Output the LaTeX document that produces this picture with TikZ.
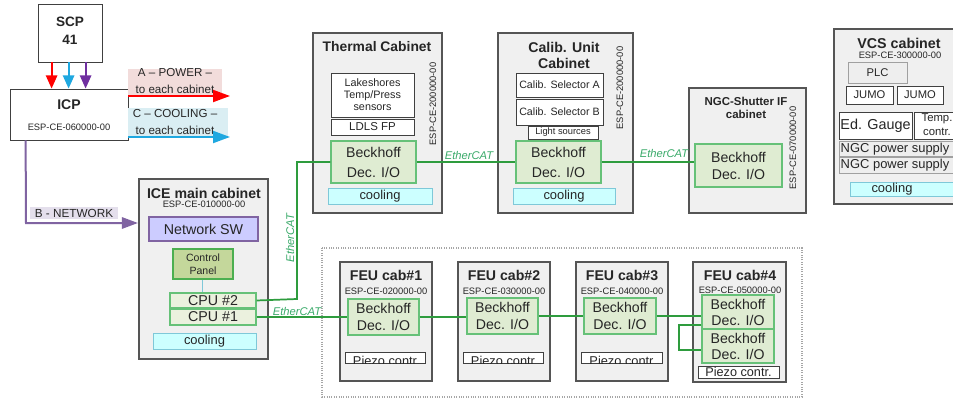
\documentclass[tikz,border=0pt]{standalone}
\usepackage{fontspec}
\setmainfont{Liberation Sans}
\usetikzlibrary{arrows.meta}
\definecolor{cabfill}{HTML}{F0F0F0}
\definecolor{cabline}{HTML}{555555}
\definecolor{wline}{HTML}{404040}
\definecolor{beckfill}{HTML}{DFECD2}
\definecolor{beckline}{HTML}{66C178}
\definecolor{cpufill}{HTML}{EBF1DE}
\definecolor{cpfill}{HTML}{C4D79B}
\definecolor{cpline}{HTML}{4CAF50}
\definecolor{netfill}{HTML}{CCCCFF}
\definecolor{netline}{HTML}{8064A2}
\definecolor{coolfill}{HTML}{CCFFFF}
\definecolor{coolline}{HTML}{7FC8D8}
\definecolor{ecatc}{HTML}{2E9C3E}
\definecolor{ecattext}{HTML}{3AAA6A}
\definecolor{gfill}{HTML}{EEEEEE}
\definecolor{gline}{HTML}{A0A0A0}
\definecolor{pwrred}{HTML}{FF0000}
\definecolor{coolblue}{HTML}{1FA8E0}
\definecolor{netpurple}{HTML}{7030A0}
\definecolor{pinkbg}{HTML}{F2DCDB}
\definecolor{bluebg}{HTML}{DAEEF3}
\definecolor{purplebg}{HTML}{E4DFEC}
\definecolor{txt}{HTML}{262626}
\newcommand\bx[7]{\node[#1, inner sep=0pt, minimum width={(#5-#3)*0.75pt}, minimum height={(#6-#4)*0.75pt}] (#2) at ({(#3+#5)/2},{(#4+#6)/2}) {#7};}
\tikzset{
  every node/.style={text=txt},
  cab/.style={draw=cabline, fill=cabfill, line width=1.6pt},
  plain/.style={draw=wline, fill=white, line width=0.6pt},
  ttl/.style={font=\bfseries\fontsize{10.6}{12}\selectfont, align=center, inner sep=0pt},
  esp/.style={font=\fontsize{7}{8}\selectfont, inner sep=0pt},
  wbox/.style={draw=wline, fill=white, line width=0.6pt, align=center},
  gbox/.style={draw=gline, fill=gfill, line width=0.6pt, align=center},
  beck/.style={draw=beckline, fill=beckfill, line width=0.8pt, align=center, font=\fontsize{10.6}{15}\selectfont},
  beckf/.style={beck, font=\fontsize{10.6}{12.8}\selectfont},
  cpu/.style={draw=beckline, fill=cpufill, line width=0.8pt, align=center, font=\fontsize{10.7}{12}\selectfont},
  cool/.style={draw=coolline, fill=coolfill, line width=0.7pt, align=center, font=\fontsize{9.7}{11}\selectfont},
  ecat/.style={draw=ecatc, line width=1.3pt},
  ecatlbl/.style={text=ecattext, font=\itshape\fontsize{8.4}{10}\selectfont, inner sep=0pt},
  lbl/.style={font=\fontsize{8.7}{12.8}\selectfont, align=center},
  bigarrow/.style={line width=1.5pt, -{Triangle[length=12.75pt,width=9pt]}},
  smallarrow/.style={line width=1.6pt, -{Triangle[length=10pt,width=8.5pt]}},
}
\begin{document}
\begin{tikzpicture}[x=0.75pt,y=-0.75pt]
\useasboundingbox (0,0) rectangle (953,399);
\fill[white] (0,0) rectangle (953,399);

% dotted frame around FEU cabinets
\draw[gray!70, densely dotted, line width=0.8pt] (322,248) rectangle (802,397);

% SCP and ICP
\bx{plain}{scp}{38}{4}{102}{62}{}
\node[ttl, font=\bfseries\fontsize{10.2}{13.5}\selectfont] (scpt) at (70,31) {SCP\\41};
\bx{plain}{icp}{10}{89}{128}{140}{}
\node[ttl, font=\bfseries\fontsize{10.5}{12}\selectfont] (icpt) at (69,105) {ICP};
\node[esp] (icpesp) at (69,127) {ESP-CE-060000-00};

\draw[smallarrow, pwrred] ([xshift=10.5pt]scp.south west) -- ([xshift=10.5pt]scp.south west |- icp.north);
\draw[smallarrow, coolblue] ([xshift=23.25pt]scp.south west) -- ([xshift=23.25pt]scp.south west |- icp.north);
\draw[smallarrow, netpurple] ([xshift=36pt]scp.south west) -- ([xshift=36pt]scp.south west |- icp.north);

% power / cooling labels and arrows
\bx{fill=pinkbg}{powlbl}{128}{69}{222}{96}{}
\node[lbl] (powt) at (175,81) {A – POWER –\\to each cabinet};
\bx{fill=bluebg}{coollbl}{128}{108}{228}{137}{}
\node[lbl] (coolt) at (175,122) {C – COOLING –\\to each cabinet};
\coordinate (pwrend) at (230,96);
\coordinate (coolend) at (230,137);
\draw[bigarrow, pwrred] (icp.east |- pwrend) -- (pwrend);
\draw[bigarrow, coolblue] (icp.east |- coolend) -- (coolend);

% ICE main cabinet
\bx{cab}{ice}{139}{179}{268}{359}{}
\node[ttl] (icet) at (204,193) {ICE main cabinet};
\node[esp] (iceesp) at (204,204) {ESP-CE-010000-00};
\bx{draw=netline, fill=netfill, line width=0.8pt, font=\fontsize{10.7}{12}\selectfont}{netsw}{149}{217}{258}{241}{Network SW}
\bx{draw=cpline, fill=cpfill, line width=0.8pt, align=center, font=\fontsize{7.9}{9.6}\selectfont}{cp}{173}{249}{233}{279}{Control\\Panel}
\bx{cpu}{cpu2}{170}{293}{256}{308}{CPU \#2}
\bx{cpu}{cpu1}{170}{309}{256}{325}{CPU \#1}
\bx{cool}{icecool}{153}{333}{256}{349}{cooling}
\draw[coolline, line width=0.7pt] ([xshift=-0.75pt]cp.south) -- ([xshift=-0.75pt]cp.south |- cpu2.north);

% network connection
\bx{fill=purplebg}{netlbl}{30}{207}{118}{219}{}
\node[font=\fontsize{8.8}{10}\selectfont, inner sep=0pt] (nett) at (74,213) {B - NETWORK};
\coordinate (netcorner) at (26,223);
\draw[netline, line width=1.5pt, -{Triangle[length=12pt,width=8.5pt]}] ([xshift=12pt]icp.south west) -- (netcorner) -- (netcorner -| ice.west);

% Thermal cabinet
\bx{cab}{therm}{313}{33}{442}{213}{}
\node[ttl, font=\bfseries\fontsize{10.4}{12}\selectfont] (thermt) at (377,47) {Thermal Cabinet};
\node[esp, rotate=90] (thesp) at (433,104) {ESP-CE-200000-00};
\bx{wbox, font=\fontsize{8.1}{9}\selectfont}{lake}{331}{73}{414}{117}{Lakeshores\\Temp/Press\\sensors}
\bx{wbox, font=\fontsize{8.6}{10}\selectfont}{ldls}{331}{119}{414}{135}{LDLS FP}
\bx{beck}{thb}{331}{141}{416}{183}{Beckhoff\\Dec. I/O}
\bx{cool}{thcool}{328}{188}{432}{204}{cooling}

% Calib unit cabinet
\bx{cab}{calib}{498}{33}{633}{213}{}
\node[ttl, font=\bfseries\fontsize{10.6}{12}\selectfont] (calibt) at (564,55) {Calib. Unit\\Cabinet};
\node[esp, rotate=90] (caesp) at (620,88) {ESP-CE-200000-00};
\bx{wbox, font=\fontsize{8}{9}\selectfont}{sela}{516}{73}{603}{97}{Calib. Selector A}
\bx{wbox, font=\fontsize{8}{9}\selectfont}{selb}{516}{99}{603}{125}{Calib. Selector B}
\bx{wbox, font=\fontsize{7}{8}\selectfont}{light}{528}{126}{598}{139}{Light sources}
\bx{beck}{cab}{516}{141}{601}{183}{Beckhoff\\Dec. I/O}
\bx{cool}{cacool}{513}{188}{615}{204}{cooling}

% NGC-Shutter IF cabinet
\bx{cab}{ngc}{689}{88}{806}{213}{}
\node[ttl, font=\bfseries\fontsize{8.6}{10}\selectfont] (ngct) at (746,108) {NGC-Shutter IF\\cabinet};
\node[esp, rotate=90] (ngcesp) at (793,148) {ESP-CE-070000-00};
\bx{beckf}{ngcb}{695}{144}{782}{187}{Beckhoff\\Dec. I/O}

% VCS cabinet
\bx{cab}{vcs}{834}{29}{968}{204}{}
\node[ttl, font=\bfseries\fontsize{10.7}{12}\selectfont] (vcst) at (899,43) {VCS cabinet};
\node[esp] (vcsesp) at (900,55) {ESP-CE-300000-00};
\bx{gbox, font=\fontsize{8.4}{10}\selectfont}{plc}{848}{62}{907}{83}{PLC}
\bx{wbox, font=\fontsize{8.4}{10}\selectfont}{jumoa}{846}{86}{893}{104}{JUMO}
\bx{wbox, font=\fontsize{8.4}{10}\selectfont}{jumob}{897}{86}{943}{104}{JUMO}
\bx{wbox, font=\fontsize{10.8}{12}\selectfont}{edg}{839}{112}{912}{139}{Ed. Gauge}
\bx{wbox}{tempc}{914}{112}{962}{139}{}
\node[font=\fontsize{8.5}{10.5}\selectfont, align=center, inner sep=0pt] (tempt) at (937,125) {Temp.\\contr.};
\bx{gbox}{ngcpa}{839}{141}{962}{156}{}
\node[font=\fontsize{9.7}{11}\selectfont, inner sep=0pt] (ngcpat) at (895,149) {NGC power supply};
\bx{gbox}{ngcpb}{839}{157}{962}{173}{}
\node[font=\fontsize{9.7}{11}\selectfont, inner sep=0pt] (ngcpbt) at (895,165) {NGC power supply};
\bx{cool}{vcool}{850}{182}{972}{196}{}
\node[font=\fontsize{9.7}{11}\selectfont, inner sep=0pt] (vcoolt) at (892,189) {cooling};

% FEU cabinets
\bx{cab}{feua}{340}{262}{432}{381}{}
\node[ttl] (feuat) at (386,275) {FEU cab\#1};
\node[esp] (feuaesp) at (386,291) {ESP-CE-020000-00};
\bx{beckf}{fab}{348}{299}{419}{335}{Beckhoff\\Dec. I/O}
\bx{plain}{fap}{345}{352}{425}{363}{}
\begin{scope}
\clip (fap.south west) rectangle (fap.north east);
\node[font=\fontsize{9.6}{11}\selectfont, inner sep=0pt, anchor=base] (fapt) at ([yshift=-1.2pt]fap.south) {Piezo contr};
\end{scope}

\bx{cab}{feub}{458}{262}{550}{381}{}
\node[ttl] (feubt) at (504,275) {FEU cab\#2};
\node[esp] (feubesp) at (504,291) {ESP-CE-030000-00};
\bx{beckf}{fbb}{467}{298}{538}{334}{Beckhoff\\Dec. I/O}
\bx{plain}{fbp}{463}{352}{543}{363}{}
\begin{scope}
\clip (fbp.south west) rectangle (fbp.north east);
\node[font=\fontsize{9.6}{11}\selectfont, inner sep=0pt, anchor=base] (fbpt) at ([yshift=-1.2pt]fbp.south) {Piezo contr};
\end{scope}

\bx{cab}{feuc}{576}{262}{668}{381}{}
\node[ttl] (feuct) at (622,275) {FEU cab\#3};
\node[esp] (feucesp) at (622,291) {ESP-CE-040000-00};
\bx{beckf}{fcb}{584}{298}{656}{334}{Beckhoff\\Dec. I/O}
\bx{plain}{fcp}{581}{352}{662}{363}{}
\begin{scope}
\clip (fcp.south west) rectangle (fcp.north east);
\node[font=\fontsize{9.6}{11}\selectfont, inner sep=0pt, anchor=base] (fcpt) at ([yshift=-1.2pt]fcp.south) {Piezo contr};
\end{scope}

\bx{cab}{feud}{693}{262}{786}{382}{}
\node[ttl] (feudt) at (740,275) {FEU cab\#4};
\node[esp] (feudesp) at (740,290) {ESP-CE-050000-00};
\bx{beckf, font=\fontsize{10.6}{12}\selectfont}{fdba}{702}{295}{774}{329}{Beckhoff\\Dec. I/O}
\bx{beckf, font=\fontsize{10.6}{12}\selectfont}{fdbb}{702}{329}{774}{363}{Beckhoff\\Dec. I/O}
\bx{plain, font=\fontsize{9.5}{11}\selectfont}{fdp}{698}{366}{779}{378}{Piezo contr.}

% EtherCAT connections
\coordinate (ecorner) at (297,299);
\draw[ecat] (cpu2.east) -- (ecorner) -- (ecorner |- thb.west) -- (thb.west);
\node[ecatlbl, rotate=90] (ecl1) at (290,238) {EtherCAT};
\draw[ecat] (thb.east) -- (cab.west);
\node[ecatlbl] (ecl2) at (469,155) {EtherCAT};
\draw[ecat] (cab.east) -- (cab.east -| ngcb.west);
\node[ecatlbl] (ecl3) at (664,153) {EtherCAT};
\draw[ecat] (cpu1.east) -- (cpu1.east -| fab.west);
\node[ecatlbl] (ecl4) at (297,311) {EtherCAT};
\draw[ecat] (fab.east) -- (fab.east -| fbb.west);
\draw[ecat] (fbb.east) -- (fbb.east -| fcb.west);
\draw[ecat] (fcb.east) -- (fcb.east -| fdba.west);
\coordinate (lpa) at (679,325);
\coordinate (lpb) at (679,350);
\draw[ecat] (lpa -| fdba.west) -- (lpa) -- (lpb) -- (lpb -| fdbb.west);
\end{tikzpicture}
\end{document}
